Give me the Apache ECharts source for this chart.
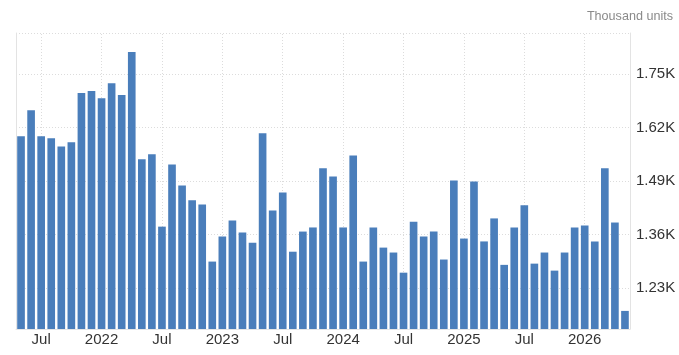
<!DOCTYPE html>
<html>
<head>
<meta charset="utf-8">
<script src="https://cdn.jsdelivr.net/npm/echarts@6/dist/echarts.min.js"></script>
<style>html,body{margin:0;padding:0;background:#fff}#c{width:679px;height:355px}</style>
</head>
<body>
<div id="c"></div>
<script>
const categories = [
 '2021-05','2021-06','2021-07','2021-08','2021-09','2021-10','2021-11','2021-12',
 '2022-01','2022-02','2022-03','2022-04','2022-05','2022-06','2022-07','2022-08','2022-09','2022-10','2022-11','2022-12',
 '2023-01','2023-02','2023-03','2023-04','2023-05','2023-06','2023-07','2023-08','2023-09','2023-10','2023-11','2023-12',
 '2024-01','2024-02','2024-03','2024-04','2024-05','2024-06','2024-07','2024-08','2024-09','2024-10','2024-11','2024-12',
 '2025-01','2025-02','2025-03','2025-04','2025-05','2025-06','2025-07','2025-08','2025-09','2025-10','2025-11','2025-12',
 '2026-01','2026-02','2026-03','2026-04','2026-05'
];
const values = [
 1.599,1.662,1.599,1.594,1.574,1.584,1.704,1.709,
 1.691,1.728,1.699,1.804,1.543,1.555,1.379,1.530,1.479,1.443,1.433,1.294,
 1.355,1.394,1.365,1.340,1.606,1.418,1.462,1.318,1.367,1.377,1.521,1.501,
 1.377,1.552,1.294,1.377,1.328,1.316,1.267,1.391,1.355,1.367,1.299,1.491,
 1.350,1.489,1.343,1.399,1.286,1.377,1.431,1.289,1.316,1.272,1.316,1.377,
 1.382,1.343,1.521,1.389,1.174
];
const yTickLabels = [1.23, 1.36, 1.49, 1.62, 1.75];
const yMin = 1.13, yMax = 1.85;
const unitLabel = 'Thousand units';

function isLabelMonth(idx) {
  const m = categories[idx].slice(5);
  return m === '01' || m === '07';
}
const chart = echarts.init(document.getElementById('c'), null, {renderer: 'canvas'});
chart.setOption({
  animation: false,
  backgroundColor: '#fff',
  title: {
    text: unitLabel, right: 1, top: 5,
    textStyle: {fontFamily: 'Liberation Sans, Arial, sans-serif', fontSize: 12.6, fontWeight: 'normal', color: '#8a8a8a'}
  },
  grid: {left: 16, right: 49, top: 33, bottom: 26, containLabel: false},
  xAxis: {
    type: 'category',
    data: categories,
    boundaryGap: true,
    axisLine: {show: true, lineStyle: {color: '#e6e6e6', width: 1}},
    axisTick: {
      show: true, inside: true, length: 296, alignWithLabel: true,
      interval: (i) => isLabelMonth(i),
      lineStyle: {color: '#dcdcdc', type: [1, 2], width: 1}
    },
    axisLabel: {
      interval: (i) => isLabelMonth(i),
      formatter: (v) => v.slice(5) === '07' ? 'Jul' : v.slice(0, 4),
      color: '#333', fontSize: 15, margin: 3,
      fontFamily: 'Liberation Sans, Arial, sans-serif'
    },
    splitLine: {show: false}
  },
  yAxis: [{
    type: 'value',
    position: 'right',
    min: yMin, max: yMax,
    axisLine: {show: true, lineStyle: {color: '#e3e3e3'}},
    axisTick: {show: false, customValues: yTickLabels.concat([yMax])},
    axisLabel: {
      customValues: yTickLabels,
      formatter: (v) => v.toFixed(2) + 'K',
      color: '#333', fontSize: 15, margin: 6,
      fontFamily: 'Liberation Sans, Arial, sans-serif'
    },
    splitLine: {show: true, lineStyle: {color: '#dcdcdc', type: [1, 2], width: 1}}
  }, {
    type: 'value',
    position: 'left',
    min: yMin, max: yMax,
    axisLine: {show: true, lineStyle: {color: '#e3e3e3'}},
    axisTick: {show: false},
    axisLabel: {show: false},
    splitLine: {show: false}
  }],
  series: [{
    type: 'bar',
    data: values,
    yAxisIndex: 0,
    barCategoryGap: '24%',
    itemStyle: {color: '#4a7ebb'}
  }]
});
</script>
</body>
</html>
